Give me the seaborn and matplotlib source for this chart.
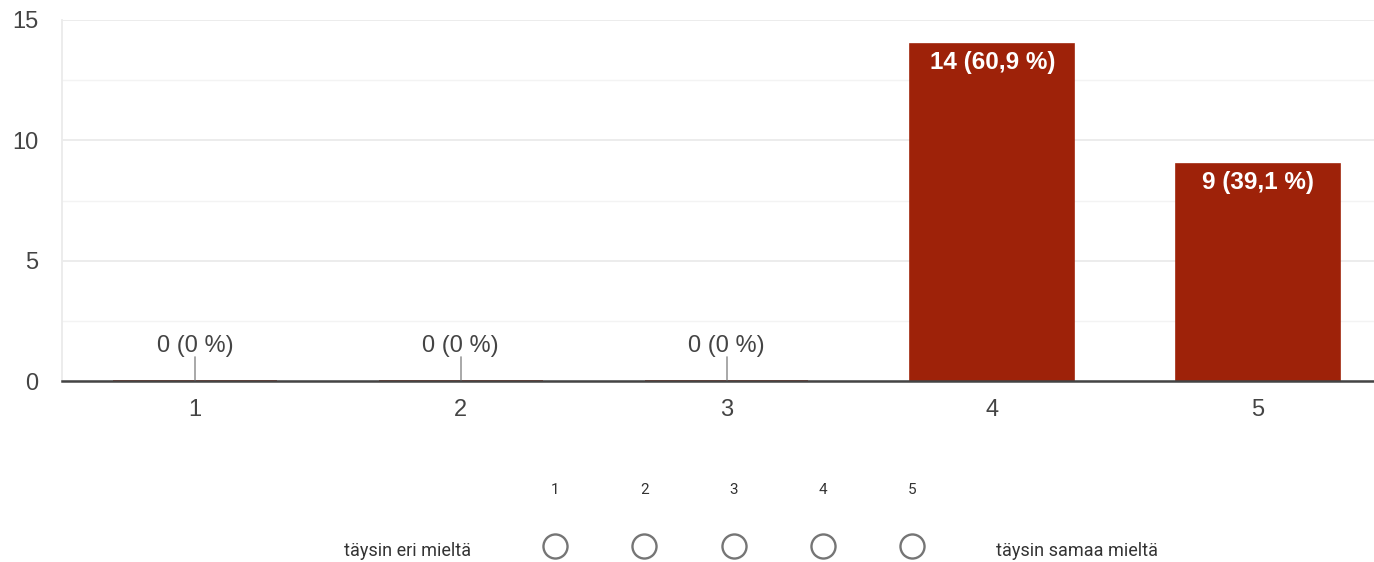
import numpy as np
import pandas as pd
import matplotlib
matplotlib.use("Agg")
import matplotlib.pyplot as plt
import seaborn as sns
from matplotlib.ticker import MultipleLocator

# data
answers = ["1", "2", "3", "4", "5"]
counts = [0, 0, 0, 14, 9]
percents = ["0 %", "0 %", "0 %", "60,9 %", "39,1 %"]
scale_left = "täysin eri mieltä"
scale_right = "täysin samaa mieltä"

df = pd.DataFrame({"answer": answers, "count": counts})

sns.set_theme(style="white")
plt.rcParams["font.family"] = ["Liberation Sans", "DejaVu Sans"]

bar_color = "#9e2209"
W, H = 1374, 562
fig = plt.figure(figsize=(W / 100, H / 100), dpi=100)
fig.patch.set_facecolor("white")

# main axes: left edge at x=62, zero line at y=381, top (15) at y=20
ax = fig.add_axes([62 / W, (H - 381) / H, (1391 - 62) / W, 361 / H])
sns.barplot(data=df, x="answer", y="count", color=bar_color, width=0.617,
            edgecolor=bar_color, linewidth=1.2, saturation=1, ax=ax, zorder=3)

ax.set_ylim(0, 15)
ax.set_xlim(-0.5, 4.5)
ax.yaxis.set_major_locator(MultipleLocator(5))
ax.yaxis.set_minor_locator(MultipleLocator(2.5))
ax.grid(axis="y", which="major", color="#ebebeb", linewidth=1.3, zorder=0)
ax.grid(axis="y", which="minor", color="#f3f3f3", linewidth=1.0, zorder=0)
ax.set_axisbelow(True)

for s in ["top", "right"]:
    ax.spines[s].set_visible(False)
ax.spines["left"].set_color("#ebebeb")
ax.spines["left"].set_linewidth(1.3)
ax.spines["bottom"].set_color("#444444")
ax.spines["bottom"].set_linewidth(1.8)
ax.spines["bottom"].set_zorder(4)

ax.set_xlabel("")
ax.set_ylabel("")
ax.tick_params(axis="both", length=0, labelsize=17, labelcolor="#444444")
ax.tick_params(axis="y", pad=17)
ax.tick_params(axis="x", pad=13)

for i, (c, p) in enumerate(zip(counts, percents)):
    label = f"{c} ({p})"
    if c > 0:
        ax.annotate(label, (i, c), xytext=(0, -5), textcoords="offset points",
                    ha="center", va="top", color="white", fontsize=17.5,
                    fontweight="semibold", zorder=5)
    else:
        ax.plot([i, i], [0, 1.0], color="#999999", linewidth=1.2, zorder=4)
        ax.annotate(label, (i, 1.0), xytext=(0, 0), textcoords="offset points",
                    ha="center", va="bottom", color="#444444", fontsize=17,
                    zorder=5)

# linear scale widget below the chart
ax2 = fig.add_axes([0, 0, 1, 100 / H])
ax2.set_xlim(0, W)
ax2.set_ylim(100, 0)
ax2.axis("off")
scale_x = 555 + 89.3 * np.arange(len(answers))
for x, a in zip(scale_x, answers):
    ax2.text(x, 28, a, ha="center", va="center", fontsize=11,
             color="#333333", family="Roboto")
ax2.scatter(scale_x, np.full(len(answers), 84), s=300, facecolors="white",
            edgecolors="#757575", linewidths=1.7)
ax2.text(408, 89, scale_left, ha="center", va="center", fontsize=13,
         color="#333333", family="Roboto")
ax2.text(1077, 89, scale_right, ha="center", va="center", fontsize=13,
         color="#333333", family="Roboto")

fig.savefig("out.png", dpi=100, facecolor="white")
